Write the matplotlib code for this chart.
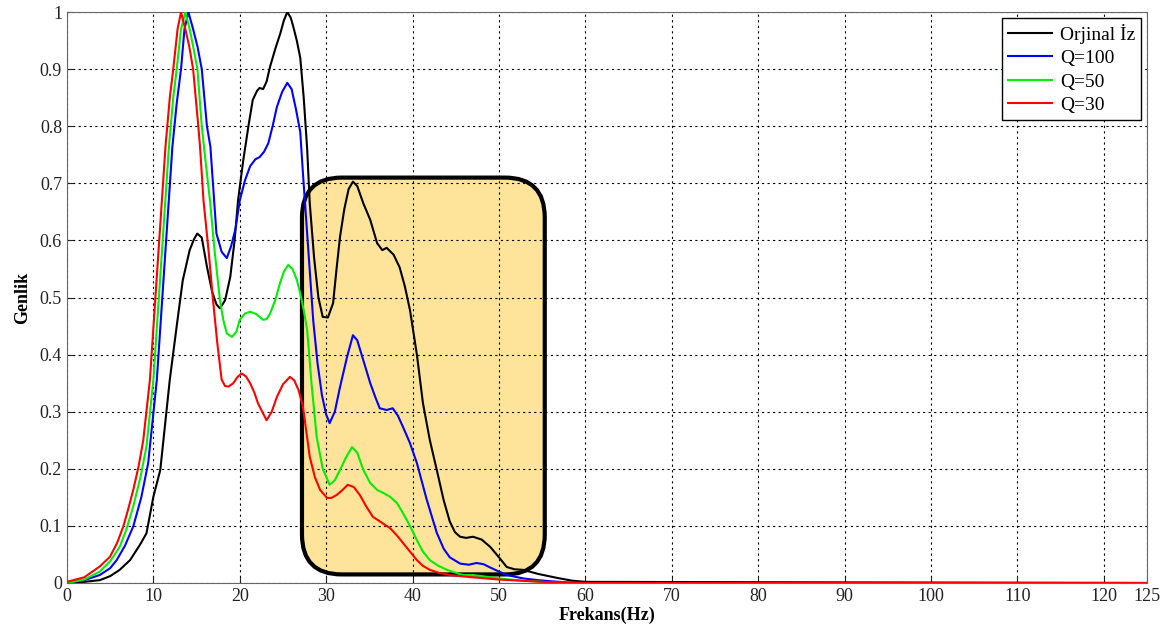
import numpy as np
import matplotlib.pyplot as plt
from matplotlib.patches import FancyBboxPatch

plt.rcParams['font.family'] = ['Liberation Serif', 'DejaVu Serif']

# Orjinal iz
x_org = [0, 2, 3.8, 5, 6.1, 7.3, 8.45, 9.2, 10.0, 10.8, 11.9, 12.7, 13.4, 14.2, 14.7, 15.08,
         15.6, 16.2, 16.8, 17.3, 17.7, 18.3, 18.9, 19.4, 19.8, 20.4, 21.0, 21.5, 22.0, 22.3,
         22.7, 23.1, 23.5, 24.1, 24.7, 25.1, 25.5, 25.9, 26.2, 26.6, 27.0, 27.4, 27.8, 28.1,
         28.6, 29.1, 29.6, 30.2, 30.8, 31.2, 31.6, 32.1, 32.6, 33.1, 33.6, 34.3, 35.1, 35.9,
         36.5, 37.0, 37.8, 38.5, 39.1, 39.7, 40.5, 41.2, 42.0, 42.8, 43.6, 44.3, 44.9, 45.5,
         46.2, 47.0, 48.0, 49.0, 50.0, 50.9, 51.8, 52.8, 54.5, 56.7, 58.5, 60, 125]
y_org = [0, 0.002, 0.005, 0.012, 0.023, 0.04, 0.067, 0.087, 0.151, 0.198, 0.356, 0.45, 0.53,
         0.583, 0.602, 0.612, 0.605, 0.554, 0.51, 0.488, 0.481, 0.495, 0.536, 0.6, 0.67, 0.74,
         0.8, 0.846, 0.862, 0.867, 0.865, 0.878, 0.904, 0.935, 0.963, 0.985, 1.0, 0.99, 0.974,
         0.95, 0.92, 0.85, 0.76, 0.665, 0.57, 0.5, 0.466, 0.465, 0.49, 0.55, 0.606, 0.655,
         0.69, 0.703, 0.695, 0.665, 0.636, 0.595, 0.583, 0.587, 0.575, 0.553, 0.52, 0.478,
         0.4, 0.315, 0.25, 0.198, 0.145, 0.108, 0.089, 0.081, 0.079, 0.081, 0.076, 0.063,
         0.045, 0.028, 0.024, 0.023, 0.016, 0.009, 0.004, 0.002, 0]

# Q=100
x_q100 = [0, 2, 3.8, 5, 5.75, 6.7, 7.67, 8.6, 9.4, 10.4, 11.3, 12.2, 12.7, 13.2, 13.6, 14.05,
          14.6, 15.1, 15.6, 16.2, 16.6, 17.3, 17.9, 18.5, 19.0, 19.5, 20.0, 20.6, 21.2, 21.8,
          22.3, 22.8, 23.3, 23.8, 24.3, 24.9, 25.5, 26.0, 26.5, 27.0, 27.3, 27.9, 28.5, 29.0,
          29.5, 30.0, 30.4, 31.0, 31.6, 32.4, 33.1, 33.6, 34.3, 35.1, 35.7, 36.2, 37.0, 37.7,
          38.3, 38.9, 39.7, 40.5, 41.6, 42.8, 43.6, 44.3, 45.5, 46.5, 47.4, 48.2, 49.0, 50.0,
          50.9, 52.8, 54.5, 56.0, 58, 60, 125]
y_q100 = [0, 0.005, 0.014, 0.026, 0.04, 0.065, 0.099, 0.15, 0.21, 0.356, 0.56, 0.764, 0.84, 0.9,
          0.97, 1.0, 0.97, 0.94, 0.9, 0.8, 0.764, 0.612, 0.58, 0.569, 0.59, 0.62, 0.67, 0.705,
          0.73, 0.742, 0.746, 0.755, 0.77, 0.8, 0.834, 0.86, 0.876, 0.865, 0.83, 0.79, 0.72,
          0.59, 0.46, 0.385, 0.33, 0.295, 0.28, 0.3, 0.343, 0.395, 0.434, 0.425, 0.39, 0.35,
          0.325, 0.306, 0.303, 0.306, 0.293, 0.273, 0.245, 0.21, 0.148, 0.088, 0.06, 0.045,
          0.034, 0.032, 0.035, 0.033, 0.027, 0.02, 0.014, 0.008, 0.005, 0.003, 0.001, 0, 0]

# Q=50
x_q50 = [0, 2, 3.8, 5, 6.13, 6.9, 7.67, 8.5, 9.2, 10.0, 10.9, 11.8, 12.3, 12.7, 13.2, 13.7, 14.2,
         14.6, 15.1, 15.6, 16.1, 16.55, 17.1, 17.7, 18.1, 18.5, 19.1, 19.6, 20.0, 20.6, 21.2,
         21.9, 22.7, 23.1, 23.5, 24.1, 24.65, 25.1, 25.6, 26.1, 26.6, 27.0, 27.4, 27.8, 28.3,
         28.9, 29.6, 30.4, 31.0, 31.6, 32.3, 33.0, 33.6, 34.3, 35.1, 35.9, 36.7, 37.4, 38.2,
         38.9, 39.7, 40.5, 41.2, 42.0, 43.0, 44.0, 45.8, 47.0, 48.5, 50.0, 52.0, 54.0, 56.0,
         58.0, 125]
y_q50 = [0, 0.006, 0.02, 0.038, 0.064, 0.095, 0.134, 0.185, 0.239, 0.356, 0.56, 0.764, 0.85,
         0.9, 0.97, 1.0, 0.97, 0.94, 0.9, 0.8, 0.73, 0.67, 0.58, 0.496, 0.46, 0.437, 0.431,
         0.44, 0.461, 0.472, 0.475, 0.471, 0.461, 0.462, 0.472, 0.495, 0.525, 0.545, 0.557,
         0.55, 0.531, 0.507, 0.478, 0.443, 0.35, 0.256, 0.2, 0.172, 0.18, 0.198, 0.22, 0.238,
         0.228, 0.198, 0.175, 0.163, 0.157, 0.151, 0.14, 0.122, 0.1, 0.075, 0.055, 0.04,
         0.03, 0.023, 0.014, 0.014, 0.011, 0.008, 0.005, 0.003, 0.001, 0, 0]

# Q=30
x_q30 = [0, 2, 3.8, 4.98, 5.8, 6.52, 7.1, 7.67, 8.3, 8.83, 9.6, 10.5, 11.4, 11.9, 12.3, 12.8,
         13.2, 13.7, 14.15, 14.6, 15.2, 15.4, 15.8, 16.4, 16.9, 17.4, 17.9, 18.3, 18.7, 19.25,
         19.7, 20.2, 20.7, 21.2, 21.7, 22.1, 22.6, 23.1, 23.7, 24.3, 25.0, 25.8, 26.3, 26.8,
         27.3, 28.1, 28.7, 29.3, 30.1, 30.6, 31.2, 31.9, 32.5, 33.2, 33.9, 34.6, 35.4, 36.4,
         37.4, 38.2, 38.9, 39.7, 40.5, 41.2, 42.0, 43.0, 44.3, 45.5, 46.9, 48.5, 50.0, 52.5,
         55.0, 57.5, 60.0, 125]
y_q30 = [0.002, 0.01, 0.029, 0.046, 0.07, 0.099, 0.13, 0.163, 0.205, 0.25, 0.356, 0.56, 0.764,
         0.85, 0.9, 0.97, 1.0, 0.97, 0.94, 0.9, 0.8, 0.764, 0.67, 0.58, 0.496, 0.42, 0.356,
         0.345, 0.344, 0.35, 0.36, 0.367, 0.362, 0.35, 0.333, 0.315, 0.3, 0.285, 0.3, 0.326,
         0.348, 0.361, 0.355, 0.338, 0.31, 0.221, 0.185, 0.163, 0.149, 0.149, 0.154, 0.163,
         0.172, 0.168, 0.154, 0.135, 0.116, 0.106, 0.096, 0.083, 0.07, 0.055, 0.04, 0.03,
         0.023, 0.018, 0.014, 0.012, 0.01, 0.008, 0.006, 0.004, 0.002, 0.001, 0, 0]

x_ticks = [0, 10, 20, 30, 40, 50, 60, 70, 80, 90, 100, 110, 120, 125]
y_ticks = [0, 0.1, 0.2, 0.3, 0.4, 0.5, 0.6, 0.7, 0.8, 0.9, 1]

fig = plt.figure(figsize=(11.73, 6.33), dpi=100)
ax = fig.add_axes([0.0571, 0.079, 0.9207, 0.902])

# vurgulanan bolge (27-55 Hz)
box = FancyBboxPatch((27.2 + 4.6, 0.015 + 0.07), 55.3 - 27.2 - 9.2, 0.71 - 0.015 - 0.14,
                     boxstyle="round,pad=4.6,rounding_size=4.6", mutation_aspect=0.07 / 4.6,
                     facecolor='#fde49a', edgecolor='black', linewidth=3, zorder=1)
ax.add_patch(box)

ax.plot(x_org, y_org, color='black', lw=1.5, label='Orjinal İz', zorder=3)
ax.plot(x_q100, y_q100, color='blue', lw=1.5, label='Q=100', zorder=3)
ax.plot(x_q50, y_q50, color='#00ee00', lw=1.5, label='Q=50', zorder=3)
ax.plot(x_q30, y_q30, color='red', lw=1.5, label='Q=30', zorder=3)

ax.set_xlim(0, 125)
ax.set_ylim(0, 1)
ax.set_xticks(x_ticks)
ax.set_yticks(y_ticks)
ax.set_yticklabels(['0', '0.1', '0.2', '0.3', '0.4', '0.5', '0.6', '0.7', '0.8', '0.9', '1'])
ax.tick_params(direction='in', length=4, labelsize=13, colors='#222222')
ax.grid(True, color='black', linestyle=(0, (2, 3)), linewidth=0.8, zorder=2)
for s in ax.spines.values():
    s.set_color('#666666')

ax.set_xlabel('Frekans(Hz)', fontsize=13, fontweight='bold', labelpad=1)
ax.set_ylabel('Genlik', fontsize=13, fontweight='bold', labelpad=6)

leg = ax.legend(loc='upper right', fontsize=14, fancybox=False, framealpha=1,
                edgecolor='black', borderaxespad=0.3, handlelength=2.3, handletextpad=0.4,
                labelspacing=0.3, borderpad=0.3)
leg.get_frame().set_linewidth(1)

fig.savefig('out.png', dpi=100)
